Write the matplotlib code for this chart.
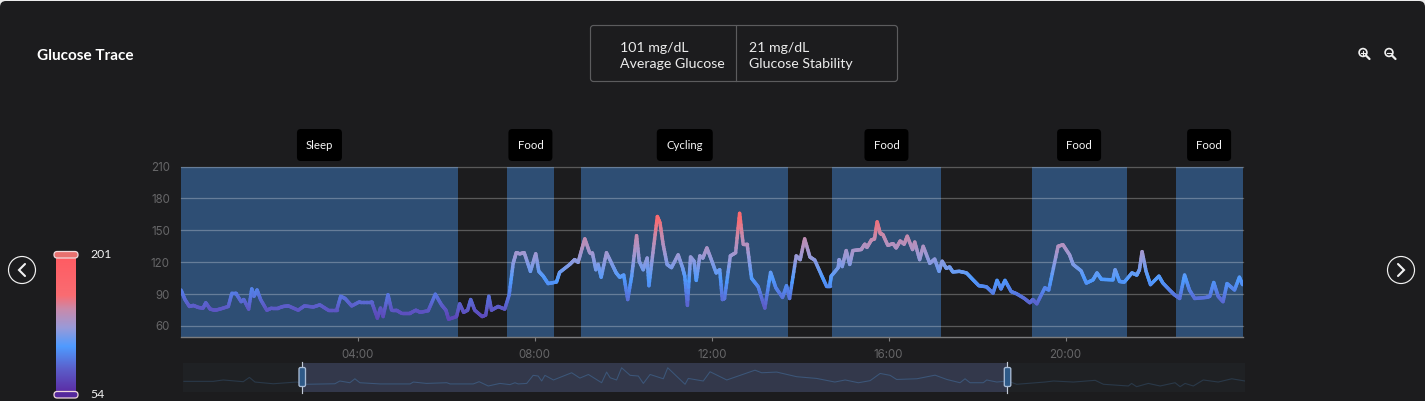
import numpy as np
import matplotlib
matplotlib.use("Agg")
import matplotlib.pyplot as plt
from matplotlib.collections import LineCollection
from matplotlib.colors import LinearSegmentedColormap, Normalize
from matplotlib.patches import FancyBboxPatch, Rectangle, Circle
from matplotlib.transforms import ScaledTranslation

# ---------- data ----------
trace_hours = [0.00,.09,.19,.28,.39,.50,.56,.66,.77,.88,1.07,1.15,1.24,1.36,1.42,1.53,1.60,1.65,1.72,1.80,1.94,2.05,2.20,2.31,2.43,2.65,2.79,2.99,3.14,3.33,3.52,3.61,3.71,3.86,4.04,4.31,4.44,4.51,4.57,4.68,4.76,4.87,4.99,5.17,5.31,5.41,5.59,5.75,5.89,5.99,6.05,6.23,6.30,6.39,6.48,6.55,6.64,6.81,6.89,6.96,7.02,7.17,7.32,7.42,7.51,7.58,7.66,7.76,7.90,8.02,8.09,8.19,8.30,8.49,8.56,
 8.79,8.90,8.98,9.06,9.13,9.24,9.30,9.38,9.43,9.50,9.62,9.77,9.84,9.92,10.01,10.10,10.19,10.30,10.36,10.45,10.54,10.58,10.67,10.77,10.83,10.90,10.99,11.09,11.24,11.34,11.39,11.45,11.52,11.60,11.65,11.73,11.80,11.89,11.99,12.10,12.18,12.24,12.29,12.42,12.54,12.63,12.71,12.80,12.90,13.05,13.20,13.33,13.45,13.60,13.69,13.76,13.91,14.00,14.10,14.22,14.33,14.48,14.59,14.67,14.70,14.86,14.88,14.95,15.04,15.12,15.19,15.38,15.46,15.51,15.61,15.68,15.74,15.81,15.87,15.98,16.10,16.17,16.26,16.35,16.42,16.54,16.59,16.70,16.78,16.93,
 17.04,17.14,17.21,17.30,17.38,17.45,17.60,17.76,17.91,18.04,18.21,18.36,18.45,18.54,18.63,18.77,18.89,19.07,19.19,19.26,19.35,19.53,19.62,19.83,19.94,20.09,20.17,20.35,20.47,20.62,20.71,20.81,21.07,21.12,21.22,21.33,21.50,21.61,21.67,21.73,21.82,21.92,22.11,22.20,22.35,22.46,22.58,22.69,22.80,22.92,23.18,23.26,23.35,23.45,23.56,23.65,23.82,23.93,24.00]
trace_values = [94,85,78.5,79.5,77.6,77,82,76,75,76,78.5,91,91,83,85,76,95,88,94,85,75,77,77,78.5,79,75,79,78,80,75,75,88,86,79,83,83,67.5,77,69,89.5,75,75,72,72,75,73,74.5,90,80,75,66.5,69,81,73,75,85,75,69,70.5,88,75,78.5,76,89.5,119,129,128,129,111.5,128,111.5,107,100,101.5,110.5,
 118,122.5,120,132,142,129,129,113,118,106,129,116,110,106,108,85,107,145,121,113,124,98,129,163,157,137,118,115,127,115,107,79.5,125,121,103,126,124,133.5,122.5,110,113,85,86,126,129,166,137,137,105,97,77,110.5,96,87,98,86,126,122.5,142,125,122,108,98,98,107,115,122.5,116,131,118,131,132,137,134,141,142,158,147,146,136,137.5,133.5,140,137,144.5,132,139,122.5,135,119,
 123,111.5,121,114.5,115.5,111,111.5,110,103.5,98,97,91,103,95,103,92.5,90.5,86,82,85,81,96,94,135,136.5,127,118,112,100.5,103.5,110,104,103.5,113,102,101.5,110,108,113,130,111.5,99,107,100.5,94,89.5,86,108,94,86,87,88,101,88,83,100,94,106,99]

overview_hours = [-4.02,-3.02,-2.68,-2.0,-1.79,-1.60,-.98,-.18,.16,1.12,1.29,1.63,1.80,1.97,2.66,3.68,3.79,4.24,4.93,5.04,5.83,6.03,6.34,6.74,7.08,7.25,7.36,7.65,7.87,8.04,8.16,8.27,8.56,9.18,9.46,9.75,10.2,10.37,10.49,10.71,10.88,11.17,11.45,11.62,11.85,12.3,12.45,13.04,13.15,13.66,13.89,14.46,15.42,15.65,16.16,16.84,17.52,18.14,18.49,18.94,19.34,19.68,20.02,20.24,20.93,21.55,21.95,22.4,22.57,22.74,23.19,23.31,23.65,24.01,24.33,25.29,25.58,26.26,27.0,27.28,28.13,28.24,28.41,28.81,29.21,29.72,29.89,30.06,30.34,30.68,31.19,31.65,32.1]
overview_values = [87,87,95,85,110,83,73,83,70,73,89,79,102,79,72,72,83,75,79,72,72,85,60,75,68,79,72,75,122,118,89,122,95,137,106,127,79,141,108,95,166,122,118,75,127,102,166,70,104,89,143,95,152,137,141,114,104,83,95,79,91,133,122,98,102,123,98,79,102,79,79,95,83,89,70,83,89,83,93,70,60,75,56,75,60,79,56,75,60,95,83,102,89]

activity_names = ["Sleep", "Food", "Cycling", "Food", "Food", "Food"]
activity_start = [0.0, 7.37, 9.05, 14.72, 19.23, 22.49]
activity_end = [6.26, 8.43, 13.73, 17.18, 21.38, 24.0]

y_ticks = [60, 90, 120, 150, 180, 210]
x_ticks = [4, 8, 12, 16, 20]
x_tick_labels = ["04:00", "08:00", "12:00", "16:00", "20:00"]
scale_min, scale_max = 54, 201
selection = (0, 24)

# ---------- style ----------
BG = "#1c1c1e"
BAND = "#2e4e74"
FONT = "Lato"
plt.rcParams["font.family"] = [FONT, "DejaVu Sans"]
W, H = 1425, 402
fig = plt.figure(figsize=(W / 100, H / 100), dpi=100, facecolor="#ececec")


def axes_px(l, t, r, b, **kw):
    return fig.add_axes([l / W, 1 - b / H, (r - l) / W, (b - t) / H], **kw)


cmap = LinearSegmentedColormap.from_list("glucose", [
    (0.0, "#5b2da5"), ((78 - 54) / 147, "#5c5cc8"), ((104 - 54) / 147, "#4f9bff"),
    ((125 - 54) / 147, "#9a9ad8"), ((145 - 54) / 147, "#c98aab"), ((160 - 54) / 147, "#f96c72"),
    (1.0, "#ff5c63")])
norm = Normalize(scale_min, scale_max)

# ---------- chrome layer (pixel coordinates) ----------
ov = axes_px(0, 0, W, H, zorder=0)
ov.set_xlim(0, W)
ov.set_ylim(H, 0)
ov.axis("off")
ov.add_patch(FancyBboxPatch((0, 2), W, H + 20, boxstyle="round,pad=0,rounding_size=6",
                            fc=BG, ec="none"))

ov.text(37, 55.5, "Glucose Trace", color="white", fontsize=11, fontweight="bold", va="center", ha="left")

# stats box
ov.add_patch(FancyBboxPatch((590.5, 26.5), 307, 56, boxstyle="round,pad=0,rounding_size=3",
                            fc="none", ec="#5c5c5e", lw=0.85))
ov.plot([736.5, 736.5], [27, 82], color="#5c5c5e", lw=0.85)
TXT = "#ececec"
ov.text(620, 47.5, "101 mg/dL", color=TXT, fontsize=10.2, va="center")
ov.text(620, 63.5, "Average Glucose", color=TXT, fontsize=10.2, va="center")
ov.text(749, 47.5, "21 mg/dL", color=TXT, fontsize=10.2, va="center")
ov.text(749, 63.5, "Glucose Stability", color=TXT, fontsize=10.2, va="center")

# zoom icons
for cx, plus in [(1363, True), (1389, False)]:
    ov.add_patch(Circle((cx, 53.5), 3.9, fc="none", ec="#f0f0f0", lw=1.2))
    ov.plot([cx + 3, cx + 6.5], [56.5, 60], color="#f0f0f0", lw=1.6, solid_capstyle="round")
    ov.plot([cx - 2, cx + 2], [53.5, 53.5], color="#f0f0f0", lw=0.8)
    if plus:
        ov.plot([cx, cx], [51.5, 55.5], color="#f0f0f0", lw=0.8)

# nav arrows
for cx, d in [(22, -1), (1401, 1)]:
    ov.add_patch(Circle((cx, 271), 13.5, fc="none", ec="#f2f2f2", lw=0.85))
    ov.plot([cx - 3 * d, cx + 3 * d, cx - 3 * d], [265, 271, 277], color="#f2f2f2", lw=1.5,
            solid_capstyle="round", solid_joinstyle="miter")

# colour scale
ov.imshow(np.linspace(scale_max, scale_min, 256)[:, None], extent=(56, 76, 393, 259), aspect="auto",
          cmap=cmap, norm=norm, zorder=1)
ov.set_xlim(0, W)
ov.set_ylim(H, 0)
for yy, val, fc in [(255.5, scale_max, "#e8706f"), (395.5, scale_min, "#55289c")]:
    ov.add_patch(FancyBboxPatch((54, yy - 3), 24, 6.5, boxstyle="round,pad=0,rounding_size=3.2",
                                fc=fc, ec="#f0d8dc", lw=0.9, zorder=2))
    ov.text(90, yy - 0.5, str(val), color="#f2f2f2", fontsize=8.8, va="center", zorder=3)

# ---------- main chart ----------
ax = axes_px(181, 167.5, 1242.5, 337.8, zorder=2)
ax.patch.set_alpha(0)
ax.set_xlim(0, 24)
ax.set_ylim(50, 210)
for s, e in zip(activity_start, activity_end):
    ax.axvspan(s, e, fc=BAND, ec="none", zorder=1)
ax.set_yticks(y_ticks)
ax.set_xticks(x_ticks, x_tick_labels)
ax.grid(axis="y", color="white", alpha=0.27, lw=0.9, zorder=2)
ax.set_axisbelow(False)
for gl in ax.get_ygridlines():
    gl.set_clip_on(False)
    gl.set_zorder(2)
for k in ("top", "left", "right"):
    ax.spines[k].set_visible(False)
ax.spines["bottom"].set_color("#7c7c7e")
ax.spines["bottom"].set_linewidth(1)
ax.tick_params(axis="y", length=0, pad=8, labelcolor="#666668", labelsize=8.3)
ax.tick_params(axis="x", length=3, width=0.8, color="#7c7c7e", pad=5, labelcolor="#666668", labelsize=8.3)
for lab in ax.get_xticklabels() + ax.get_yticklabels():
    lab.set_family(["Inter", "DejaVu Sans"])
lift = ScaledTranslation(0, 1.2 / 100, fig.dpi_scale_trans)
for lab in ax.get_yticklabels():
    lab.set_transform(lab.get_transform() + lift)

# colour each short stroke of the trace by its glucose level
t = np.asarray(trace_hours, float)
v = np.asarray(trace_values, float)
pos = np.linspace(0, len(t) - 1, (len(t) - 1) * 8 + 1)
tt = np.interp(pos, np.arange(len(t)), t)
vv = np.interp(pos, np.arange(len(t)), v)
pts = np.column_stack([tt, vv])
segs = np.stack([pts[:-1], pts[1:]], axis=1)
lc = LineCollection(segs, colors=cmap(norm((vv[:-1] + vv[1:]) / 2)), linewidths=2.5,
                    capstyle="round", joinstyle="round", zorder=3)
ax.add_collection(lc)

# activity tags, centred over their bands
to_px = lambda h: 181 + h * (1242.5 - 181) / 24
for name, s, e in zip(activity_names, activity_start, activity_end):
    c = to_px((s + e) / 2)
    w = 56 if name == "Cycling" else (45 if name == "Sleep" else 44)
    ov.add_patch(FancyBboxPatch((c - w / 2, 130), w, 32, boxstyle="round,pad=0,rounding_size=4",
                                fc="black", ec="none", zorder=2))
    ov.text(c, 145.5, name, color="#f5f5f5", fontsize=8.2, ha="center", va="center", zorder=3)

# ---------- overview strip ----------
nav = axes_px(183, 363.8, 1245, 393, zorder=1)
nav.set_xlim(-4.05, 32.1)
nav.set_ylim(25, 195)
nav.axis("off")
nav.add_patch(Rectangle((-4.05, 25), 36.15, 170, fc="#1f2124", ec="none", zorder=0))
nav.add_patch(Rectangle((selection[0], 25), selection[1] - selection[0], 170, fc="#33384b", ec="none", zorder=1))
nav.plot(overview_hours, overview_values, color="#2a3949", lw=0.8, zorder=2)
bright, = nav.plot(overview_hours, overview_values, color="#3e5578", lw=0.8, zorder=3)
bright.set_clip_path(Rectangle((selection[0], 25), selection[1] - selection[0], 170, transform=nav.transData))

for h in selection:
    c = 302 + h * (1007.3 - 302) / 24
    fig.add_artist(plt.Line2D([c / W, c / W], [1 - 393.5 / H, 1 - 363 / H], color="#c4ccd8", lw=0.85, zorder=5))
    fig.add_artist(FancyBboxPatch((c - 3, 368.5), 6.5, 19, boxstyle="round,pad=0,rounding_size=1.6",
                                  fc="#2f5a88", ec="#a9bcd6", lw=0.95, zorder=6,
                                  transform=ov.transData))

fig.savefig("out.png", dpi=100, facecolor=fig.get_facecolor())
